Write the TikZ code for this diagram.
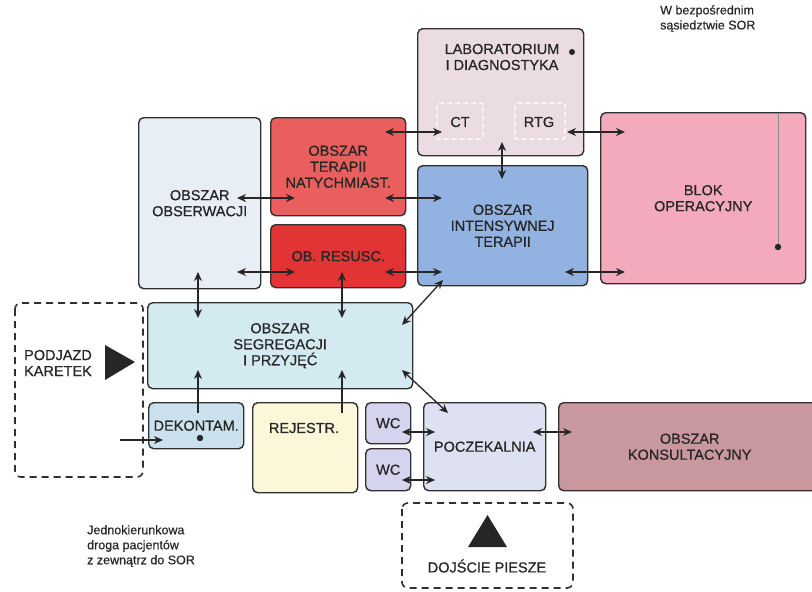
\documentclass[tikz,border=0pt]{standalone}
\usepackage{fontspec}
\setmainfont{Liberation Sans}
\newfontfamily\heavy{Liberation Sans}[FakeBold=0.7]
\newfontfamily\heavysmall{Liberation Sans}[FakeBold=0.4]
\usetikzlibrary{arrows.meta}
\definecolor{txt}{HTML}{262626}
\definecolor{edge}{HTML}{303030}
\definecolor{clab}{HTML}{EADCE2}
\definecolor{cobs}{HTML}{E8EEF6}
\definecolor{cter}{HTML}{EA5E5E}
\definecolor{cres}{HTML}{E23434}
\definecolor{cint}{HTML}{92B2E2}
\definecolor{cblok}{HTML}{F2AABC}
\definecolor{cseg}{HTML}{D2EAF0}
\definecolor{cdek}{HTML}{CBE2EE}
\definecolor{crej}{HTML}{FBF7D8}
\definecolor{cwc}{HTML}{D4D4EE}
\definecolor{cpocz}{HTML}{DDE1F2}
\definecolor{ckons}{HTML}{C9989E}
\tikzset{
  box/.style={draw=edge, line width=1.4pt, rounded corners=5pt, anchor=north west,
    inner sep=0pt, align=center, text=txt, font=\heavy\fontsize{14.5}{16}\selectfont},
  dbox/.style={draw=edge, line width=1.6pt, dash pattern=on 7pt off 5pt, rounded corners=6pt},
  lbl/.style={text=txt, font=\heavy\fontsize{14.5}{16}\selectfont, align=center, inner sep=0pt},
  small/.style={text=txt, font=\heavysmall\fontsize{12.5}{15}\selectfont, align=left, inner sep=0pt, anchor=north west},
  dbl/.style={<->, >={Stealth[length=9pt,width=8pt]}, line width=1.3pt, draw=black!85},
  one/.style={->, >={Stealth[length=9pt,width=8pt]}, line width=1.3pt, draw=black!85},
  inner/.style={draw=white, line width=1.4pt, dash pattern=on 5pt off 3pt, rounded corners=2pt}
}
\newcommand{\bx}[7]{\node[box, fill=#2, minimum width={#5-#3}, minimum height={#6-#4}] (#1) at (#3,#4) {#7};}
\begin{document}
\begin{tikzpicture}[x=1pt,y=-1pt]
\useasboundingbox (0,0) rectangle (812,592);
\clip (0,0) rectangle (812,592);
% boxes
\bx{lab}{clab}{417}{28}{583}{155}{}
\bx{obs}{cobs}{138}{117}{260}{288}{OBSZAR\\OBSERWACJI}
\bx{ter}{cter}{270}{117}{405}{215}{OBSZAR\\TERAPII\\NATYCHMIAST.}
\bx{res}{cres}{270}{224}{405}{287}{OB. RESUSC.}
\bx{int}{cint}{417}{165}{587}{285}{OBSZAR\\INTENSYWNEJ\\TERAPII}
\bx{blok}{cblok}{600}{112}{805}{283}{BLOK\\OPERACYJNY}
\bx{seg}{cseg}{147}{302}{412}{388}{OBSZAR\\SEGREGACJI\\I PRZYJĘĆ}
\bx{dek}{cdek}{148}{402}{243}{448}{DEKONTAM.}
\bx{rej}{crej}{252}{402}{357}{492}{}
\bx{wca}{cwc}{365}{402}{410}{443}{WC}
\bx{wcb}{cwc}{365}{448}{410}{490}{WC}
\bx{pocz}{cpocz}{423}{402}{545}{490}{POCZEKALNIA}
\bx{kons}{ckons}{558}{402}{820}{490}{OBSZAR\\KONSULTACYJNY}
% texts inside non-centred boxes
\node[lbl] (labt) at (502,57) {LABORATORIUM\\I DIAGNOSTYKA};
\node[lbl] (rejt) at (304,428) {REJESTR.};
% CT / RTG inner dashed
\draw[inner] (437,103) rectangle (483,139);
\draw[inner] (515,103) rectangle (565,139);
\node[lbl] (ct) at (460,122) {CT};
\node[lbl] (rtg) at (539,122) {RTG};
% dots and inner line
\fill[black!85] (572,52) circle (3pt);
\draw[draw=black!45, line width=0.5pt] (778,113) -- (778,247);
\fill[black!85] (778,247) circle (3.2pt);
\fill[black!85] (200,438) circle (3.2pt);
% dashed areas
\draw[dbox] (15,303) rectangle (143,477);
\node[lbl, align=left] (podj) at (58,363) {PODJAZD\\KARETEK};
\fill[black!85] (105,345) -- (135,362) -- (105,380) -- cycle;
\draw[dbox] (402,503) rectangle (573,588);
\fill[black!85] (468,547) -- (487.5,515) -- (507,547) -- cycle;
\node[lbl] (doj) at (487,566) {DOJŚCIE PIESZE};
% small notes
\node[small] (note1) at (660,5) {W bezpośrednim\\sąsiedztwie SOR};
\node[small] (note2) at (87,525) {Jednokierunkowa\\droga pacjentów\\z zewnątrz do SOR};
% arrow end coordinates
\coordinate (a1) at (237,198); \coordinate (b1) at (295,198);
\coordinate (a2) at (237,272); \coordinate (b2) at (295,272);
\coordinate (a3) at (385,132); \coordinate (b3) at (442,132);
\coordinate (a4) at (385,198); \coordinate (b4) at (442,198);
\coordinate (a5) at (385,272); \coordinate (b5) at (442,272);
\coordinate (a6) at (502,142); \coordinate (b6) at (502,179);
\coordinate (a7) at (567,132); \coordinate (b7) at (625,132);
\coordinate (a8) at (565,272); \coordinate (b8) at (625,272);
\coordinate (a9) at (198,272); \coordinate (b9) at (198,318);
\coordinate (a10) at (342,272); \coordinate (b10) at (342,318);
\coordinate (a11) at (402,325); \coordinate (b11) at (443,280);
\coordinate (a12) at (402,370); \coordinate (b12) at (448,413);
\coordinate (a13) at (198,413); \coordinate (b13) at (198,370);
\coordinate (a14) at (342,413); \coordinate (b14) at (342,370);
\coordinate (a15) at (120,440); \coordinate (b15) at (163,440);
\coordinate (a16) at (402,432); \coordinate (b16) at (435,432);
\coordinate (a17) at (402,480); \coordinate (b17) at (435,480);
\coordinate (a18) at (533,432); \coordinate (b18) at (572,432);
% arrows
\foreach \i in {1,...,12,16,17,18} {\draw[dbl] (a\i) -- (b\i);}
\foreach \i in {13,14,15} {\draw[one] (a\i) -- (b\i);}
\end{tikzpicture}
\end{document}
